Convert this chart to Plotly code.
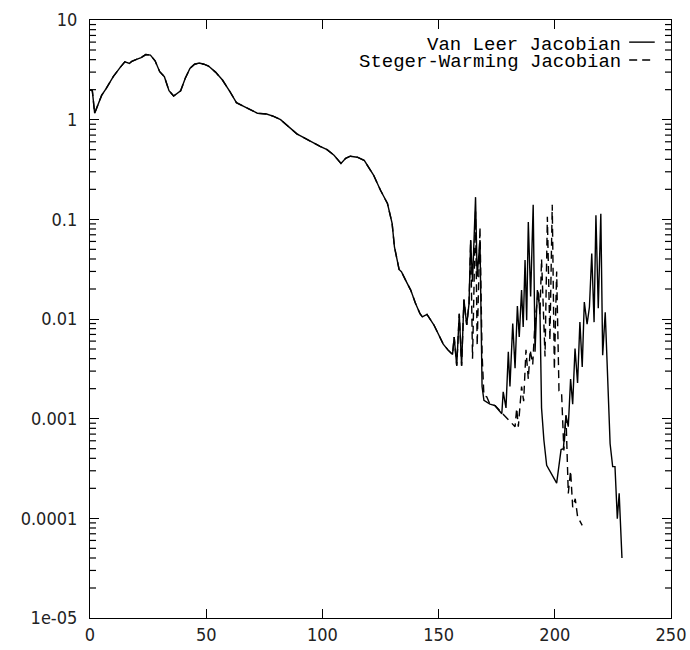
import numpy as np
import plotly.graph_objects as go

# Common (converged-identical) part of both histories
iter_common = [0, 1, 2, 3, 5, 7, 10, 13, 15, 17, 18, 20, 22, 24, 26, 28, 30, 32, 34, 36, 38, 39,
               41, 43, 45, 47, 49, 51, 54, 57, 60, 63, 67, 72, 76, 79, 82, 85, 89, 92, 96, 99,
               102, 105, 108, 110, 112, 115, 118, 120, 122, 125, 128, 130, 131, 133, 134, 136,
               138, 140, 142, 143, 145, 148, 150, 152, 154, 156]
res_common = [2.0, 1.95, 1.16, 1.35, 1.75, 2.06, 2.7, 3.35, 3.8, 3.67, 3.85, 4.03, 4.2, 4.5, 4.45,
              3.9, 3.03, 2.7, 1.95, 1.73, 1.85, 1.95, 2.6, 3.27, 3.6, 3.7, 3.6, 3.45, 3.0, 2.5,
              1.95, 1.48, 1.33, 1.16, 1.14, 1.08, 1.0, 0.87, 0.72, 0.66, 0.586, 0.54, 0.5, 0.44,
              0.364, 0.41, 0.43, 0.42, 0.39, 0.33, 0.278, 0.196, 0.144, 0.091, 0.053, 0.0314,
              0.0298, 0.024, 0.0195, 0.0145, 0.0113, 0.0105, 0.0111, 0.0087, 0.007, 0.0056,
              0.0049, 0.0044]

# Van Leer Jacobian tail
vl_iter = [156.7, 157.8, 158.9, 159.9, 160.9, 162.1, 163.1, 163.8, 164.6, 165.9, 166.6, 167.8,
           168.7, 169.5, 172.1, 174.3, 177.2, 177.8, 179.0, 180.0, 180.7, 181.9, 182.9, 183.9,
           184.7, 185.7, 186.4, 187.2, 187.9, 188.6, 189.6, 190.7, 191.5, 192.5, 193.6, 194.3,
           195.3, 196.5, 200.8, 202.7, 203.7, 204.8, 205.8, 206.8, 207.7, 208.7, 209.8, 210.8,
           211.8, 212.7, 213.9, 214.9, 215.9, 216.9, 217.7, 218.7, 219.8, 220.6, 221.7, 223.8,
           224.9, 225.9, 226.9, 227.7, 228.9]
vl_res = [0.0066, 0.0034, 0.0113, 0.0034, 0.0157, 0.0087, 0.0143, 0.062, 0.0236, 0.167, 0.0266,
          0.062, 0.0021, 0.00153, 0.0014, 0.00135, 0.00112, 0.00186, 0.00128, 0.0047, 0.0021,
          0.009, 0.0032, 0.0135, 0.0066, 0.0195, 0.0083, 0.039, 0.0097, 0.094, 0.0168, 0.14,
          0.0047, 0.0195, 0.0125, 0.00128, 0.00061, 0.00034, 0.000226, 0.00049, 0.0005, 0.00108,
          0.00083, 0.0025, 0.0014, 0.00505, 0.00228, 0.0093, 0.0033, 0.0148, 0.0089, 0.0132,
          0.0454, 0.0093, 0.11, 0.0128, 0.114, 0.00433, 0.0117, 0.00056, 0.00033, 0.00033,
          9.9e-5, 0.000178, 4.0e-5]

# Steger-Warming Jacobian tail
sw_iter = [156.7, 157.8, 158.9, 159.9, 160.9, 162.1, 163.1, 163.8, 164.6, 165.9, 166.6, 167.8,
           168.7, 169.5, 170.7, 172.1, 174.3, 177.2, 178.6, 181.4, 182.9, 183.6, 184.3, 185.7,
           186.6, 187.6, 188.6, 189.4, 190.5, 191.5, 192.9, 193.6, 194.3, 195.8, 196.8, 197.9,
           198.9, 199.8, 200.8, 201.8, 202.9, 203.9, 204.8, 205.8, 206.8, 207.7, 208.8, 209.8,
           211.8]
sw_res = [0.0066, 0.0034, 0.0113, 0.0034, 0.0157, 0.0087, 0.0143, 0.062, 0.004, 0.12, 0.0054,
          0.084, 0.0045, 0.0017, 0.00166, 0.0014, 0.00135, 0.00115, 0.00105, 0.00089, 0.00083,
          0.00127, 0.00083, 0.0021, 0.0015, 0.0049, 0.0025, 0.0049, 0.0035, 0.0095, 0.0195,
          0.011, 0.04, 0.0042, 0.106, 0.0061, 0.14, 0.0031, 0.03, 0.0019, 0.00186, 0.00048,
          0.00108, 0.000178, 0.0003, 0.000129, 0.000157, 0.000104, 8.5e-5]

x_ticks = [0, 50, 100, 150, 200, 250]
y_label_alias = {"0.00001": "1e-05"}
y_log_range = [-5, 1]
y_minor = [k * 10.0 ** e for e in range(-5, 1) for k in range(2, 10)]

legend_names = ["Van Leer Jacobian", "Steger-Warming Jacobian"]

fig = go.Figure()
fig.add_trace(go.Scatter(x=iter_common + vl_iter, y=res_common + vl_res, mode="lines",
                         name=legend_names[0], line=dict(color="black", width=1.4)))
fig.add_trace(go.Scatter(x=iter_common + sw_iter, y=res_common + sw_res, mode="lines",
                         name=legend_names[1],
                         line=dict(color="black", width=1.4, dash="8px,5px")))

tick_font = dict(family="DejaVu Sans Condensed, DejaVu Sans Mono, monospace", size=18,
                 color="#222222")

fig.update_layout(
    xaxis=dict(range=[0, 250], tickvals=x_ticks, ticks="inside", ticklen=9, tickwidth=1,
               tickcolor="black", showline=True, linecolor="black", linewidth=1.2,
               mirror="allticks", showgrid=False, zeroline=False, tickfont=tick_font,
               automargin=False, ticklabelstandoff=0),
    yaxis=dict(type="log", range=y_log_range, tickmode="linear", tick0=0, dtick=1,
               exponentformat="none", labelalias=y_label_alias,
               ticks="inside", ticklen=9, tickwidth=1, tickcolor="black", showline=True,
               linecolor="black", linewidth=1.2, mirror="allticks", showgrid=False,
               zeroline=False, tickfont=tick_font, automargin=False, ticklabelstandoff=8),
)

# Minor log ticks (2..9 per decade) on both vertical axes, placed in axis-domain units
minor_len = 6.0 / 581.0
for v in y_minor:
    frac = (np.log10(v) - y_log_range[0]) / (y_log_range[1] - y_log_range[0])
    for x0, x1 in [(0.0, minor_len), (1.0 - minor_len, 1.0)]:
        fig.add_shape(type="line", xref="x domain", yref="y domain", x0=x0, x1=x1,
                      y0=frac, y1=frac, layer="above", line=dict(color="black", width=1.2))

legend_font = dict(family="Liberation Mono, Courier New, monospace", size=19, color="black")
ann_y = [0.959, 0.929]
for name, yy in zip(legend_names, ann_y):
    fig.add_annotation(text=name, xref="paper", yref="paper", x=0.916, y=yy, xanchor="right",
                       yanchor="middle", showarrow=False, font=legend_font, borderpad=0)
fig.add_shape(type="line", xref="paper", yref="paper", x0=0.928, x1=0.972, y0=ann_y[0] + 0.004,
              y1=ann_y[0] + 0.004, line=dict(color="black", width=1.4))
fig.add_shape(type="line", xref="paper", yref="paper", x0=0.928, x1=0.972, y0=ann_y[1] + 0.004,
              y1=ann_y[1] + 0.004, line=dict(color="black", width=1.4, dash="8px,5px"))

fig.update_layout(width=690, height=650, margin=dict(l=90, r=19, t=20, b=32),
                  paper_bgcolor="white", plot_bgcolor="white", showlegend=False)

fig.write_html("out.html")
